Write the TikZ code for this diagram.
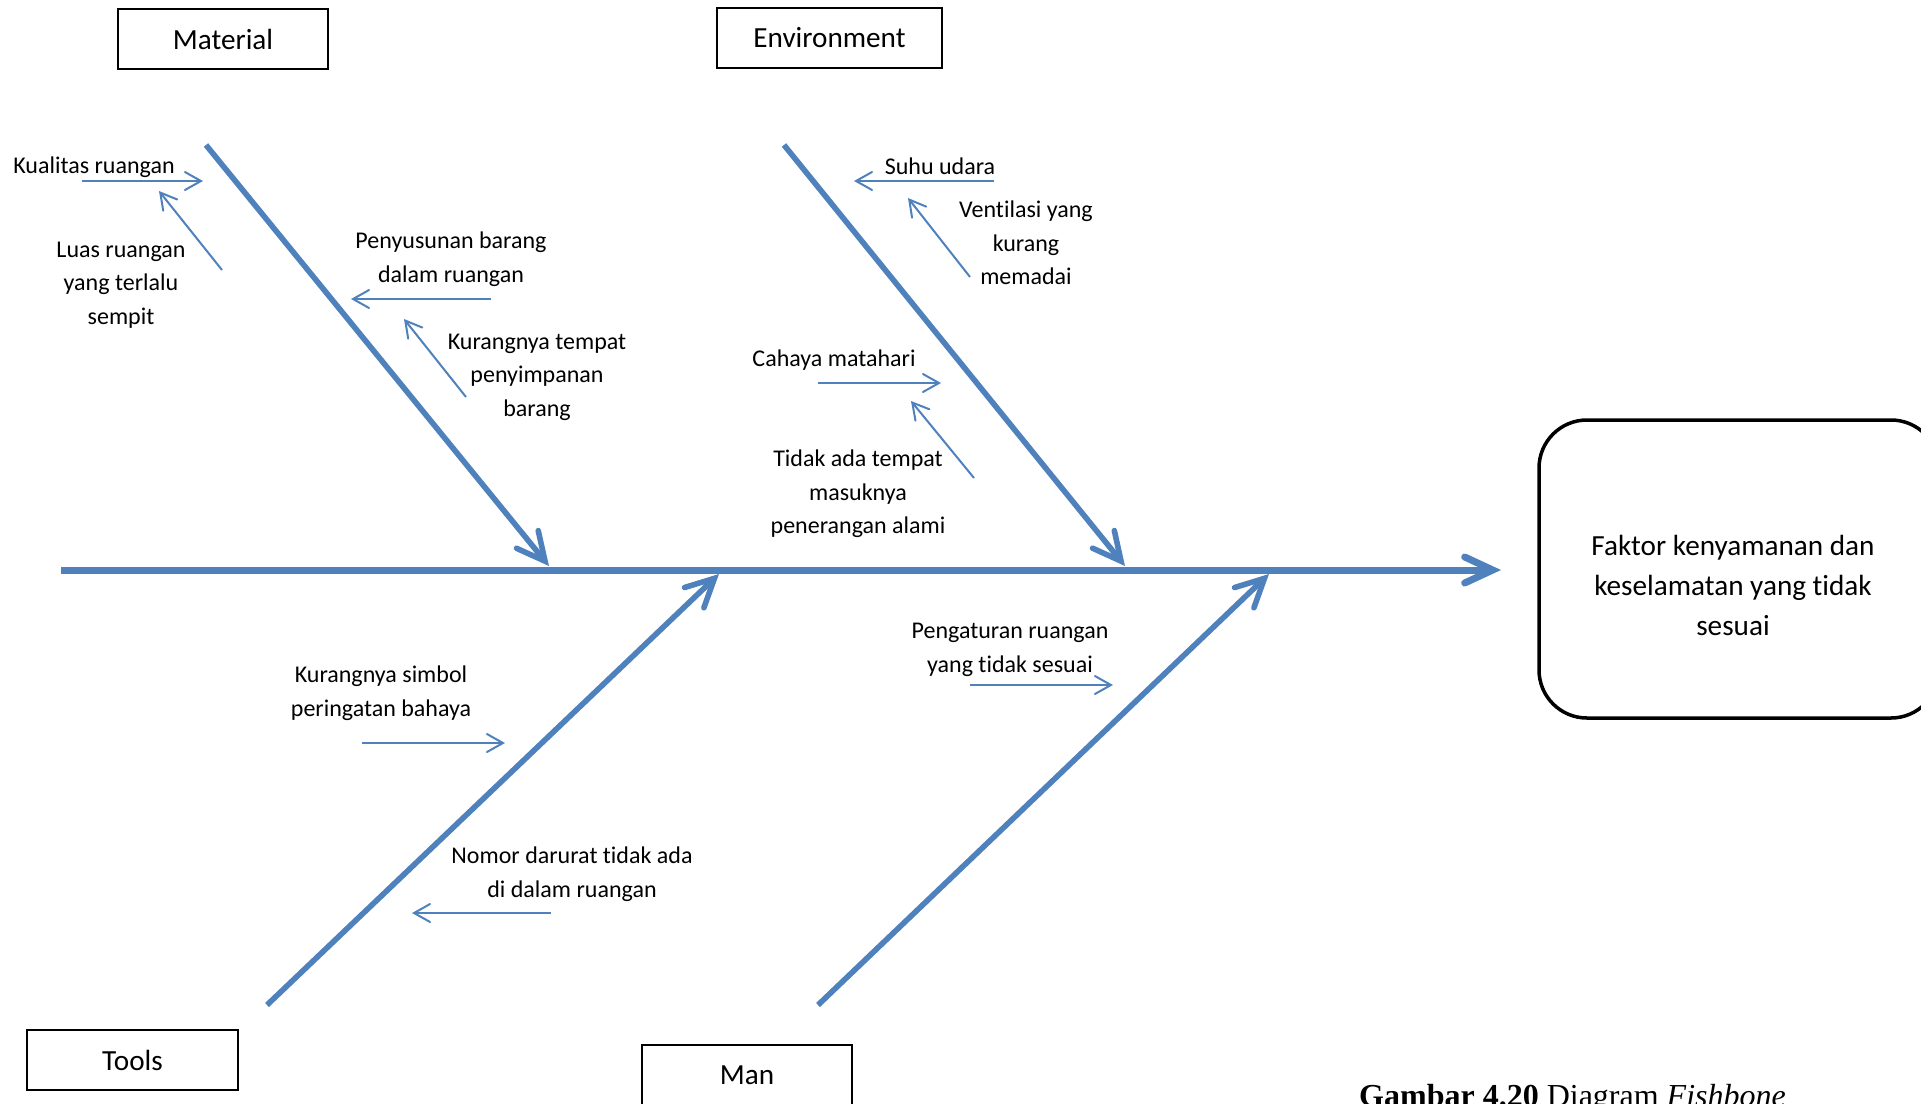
\documentclass[tikz,border=0pt]{standalone}
\usepackage{fontspec}
\setmainfont{Carlito}[Ligatures={NoCommon,NoContextual}]
\newfontfamily\capfont{Liberation Serif}
\usetikzlibrary{arrows.meta}
\definecolor{fbblue}{RGB}{79,129,189}
\begin{document}
\begin{tikzpicture}[x=1bp,y=-1bp,
  spine/.style={draw=fbblue,line width=7bp,-{Straight Barb[length=28bp,width=26bp,line cap=round,line join=miter]}},
  bone/.style={draw=fbblue,line width=5.6bp,-{Straight Barb[length=28bp,width=28bp,line cap=round,line join=miter]}},
  twig/.style={draw=fbblue,line width=2bp,-{Straight Barb[length=16bp,width=18bp,line cap=round,line join=miter]}},
  lab/.style={font=\fontsize{24bp}{33.6bp}\selectfont,align=center,inner sep=0pt},
  catbox/.style={draw=black,line width=1.4bp,minimum height=60bp,inner sep=0pt,font=\fontsize{29.2bp}{40bp}\selectfont},
  effbox/.style={draw=black,line width=3.5bp,rounded corners=48bp,minimum width=400bp,minimum height=298bp,inner sep=0pt},
  efftext/.style={font=\fontsize{29.2bp}{40bp}\selectfont,align=center,inner sep=0pt}
]
\useasboundingbox (0,0) rectangle (1921,1103);

% category boxes
\node[catbox,minimum width=210bp] (material) at (223,39) {Material};
\node[catbox,minimum width=225bp] (environment) at (829.5,38) {Environment};
\node[catbox,minimum width=211bp] (tools) at (132.5,1060) {Tools};
\node[catbox,minimum width=210bp] (man) at (747,1075) {Man};

% effect
\node[effbox] (effect) at (1739,569) {};
\node[efftext] (efftxt) at (1733,585) {Faktor kenyamanan dan\\keselamatan yang tidak\\sesuai};

% spine and bones
\coordinate (tail) at (61,570);
\coordinate (head) at (1501,570);
\draw[spine] (tail) -- (head);
\coordinate (mat0) at (206,145);
\coordinate (mat1) at (549,566);
\draw[bone] (mat0) -- (mat1);
\coordinate (env0) at (784,145);
\coordinate (env1) at (1125,566);
\draw[bone] (env0) -- (env1);
\coordinate (too0) at (267,1005);
\coordinate (too1) at (719,574);
\draw[bone] (too0) -- (too1);
\coordinate (man0) at (818,1005);
\coordinate (man1) at (1269,574);
\draw[bone] (man0) -- (man1);

% labels
\node[lab] (kual) at (94,167) {Kualitas ruangan};
\node[lab] (luas) at (121,285) {Luas ruangan\\yang terlalu\\sempit};
\node[lab] (peny) at (451,259) {Penyusunan barang\\dalam ruangan};
\node[lab] (kurt) at (537,377) {Kurangnya tempat\\penyimpanan\\barang};
\node[lab] (suhu) at (940,166) {Suhu udara};
\node[lab] (vent) at (1026,243) {Ventilasi yang\\kurang\\memadai};
\node[lab] (caha) at (834,360) {Cahaya matahari};
\node[lab] (tida) at (858,494) {Tidak ada tempat\\masuknya\\penerangan alami};
\node[lab] (kurs) at (381,693) {Kurangnya simbol\\peringatan bahaya};
\node[lab] (nomo) at (572,874) {Nomor darurat tidak ada\\di dalam ruangan};
\node[lab] (peng) at (1010,650) {Pengaturan ruangan\\yang tidak sesuai};

% small arrows
\coordinate (kual0) at (82,181);  \coordinate (kual1) at (203,181);
\coordinate (luas0) at (222,270); \coordinate (luas1) at (159,191);
\coordinate (peny0) at (491,299); \coordinate (peny1) at (351,299);
\coordinate (kurt0) at (466,397); \coordinate (kurt1) at (404,319);
\coordinate (suhu0) at (994,181); \coordinate (suhu1) at (854,181);
\coordinate (vent0) at (970,277); \coordinate (vent1) at (908,198);
\coordinate (caha0) at (818,383); \coordinate (caha1) at (941,383);
\coordinate (tida0) at (974,478); \coordinate (tida1) at (911,401);
\coordinate (kurs0) at (362,743); \coordinate (kurs1) at (505,743);
\coordinate (nomo0) at (551,913); \coordinate (nomo1) at (412,913);
\coordinate (peng0) at (970,685); \coordinate (peng1) at (1113,685);
\foreach \n in {kual,luas,peny,kurt,suhu,vent,caha,tida,kurs,nomo,peng}
  \draw[twig] (\n0) -- (\n1);

% caption
\node[anchor=base west,inner sep=0pt,font=\capfont\fontsize{32bp}{38bp}\selectfont] (caption) at (1359,1106) {\textbf{Gambar 4.20} Diagram \textit{Fishbone}};
\end{tikzpicture}
\end{document}
